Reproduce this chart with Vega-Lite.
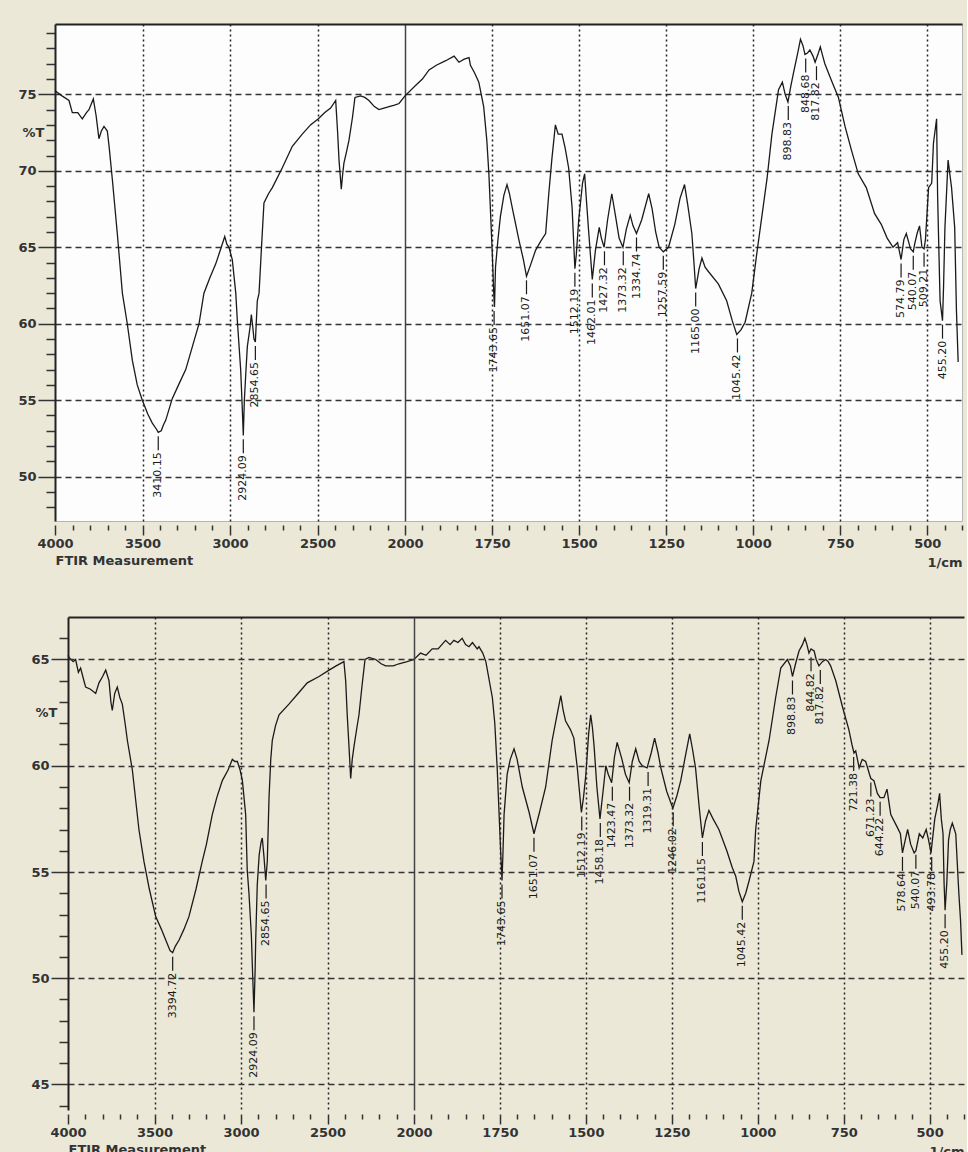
{
  "$schema": "https://vega.github.io/schema/vega-lite/v6.json",
  "background": "#ebe8d8",
  "padding": {"left": 12, "top": 23, "right": 2, "bottom": 0},
  "spacing": 47,
  "columns": 1,
  "align": "none",
  "config": {
    "view": {"stroke": "#b5b5b5", "strokeWidth": 1, "fill": "#fdfdfd"},
    "axis": {
      "labelFont": "DejaVu Sans", "labelFontWeight": "bold", "labelFontSize": 13, "labelColor": "#333333",
      "titleFont": "DejaVu Sans", "titleFontWeight": "bold", "titleFontSize": 13, "titleColor": "#333333",
      "tickColor": "#333333", "tickWidth": 1.5
    }
  },
  "datasets": {
    "specA": [
      {"wn":4000,"t":75.3},{"wn":3996,"t":75.2},{"wn":3960,"t":74.9},{"wn":3920,"t":74.6},{"wn":3901,"t":73.8},{"wn":3870,"t":73.8},{"wn":3844,"t":73.4},{"wn":3820,"t":73.8},{"wn":3806,"t":74.0},{"wn":3781,"t":74.7},{"wn":3765,"t":73.6},{"wn":3749,"t":72.1},{"wn":3735,"t":72.6},{"wn":3720,"t":72.9},{"wn":3701,"t":72.6},{"wn":3690,"t":71.5},{"wn":3672,"t":69.4},{"wn":3644,"t":65.9},{"wn":3615,"t":62.0},{"wn":3587,"t":60.0},{"wn":3558,"t":57.6},{"wn":3530,"t":56.0},{"wn":3501,"t":55.0},{"wn":3470,"t":54.1},{"wn":3444,"t":53.5},{"wn":3420,"t":53.1},{"wn":3410,"t":52.9},{"wn":3393,"t":53.0},{"wn":3380,"t":53.4},{"wn":3367,"t":53.7},{"wn":3330,"t":55.1},{"wn":3290,"t":56.1},{"wn":3253,"t":57.0},{"wn":3215,"t":58.5},{"wn":3177,"t":60.0},{"wn":3149,"t":62.0},{"wn":3115,"t":63.0},{"wn":3082,"t":63.9},{"wn":3050,"t":65.0},{"wn":3030,"t":65.7},{"wn":3018,"t":65.2},{"wn":3006,"t":65.0},{"wn":2987,"t":64.2},{"wn":2967,"t":62.0},{"wn":2958,"t":60.2},{"wn":2939,"t":57.0},{"wn":2930,"t":54.5},{"wn":2924,"t":52.7},{"wn":2918,"t":55.0},{"wn":2910,"t":56.7},{"wn":2901,"t":58.5},{"wn":2885,"t":59.8},{"wn":2878,"t":60.6},{"wn":2870,"t":59.8},{"wn":2863,"t":59.0},{"wn":2855,"t":58.8},{"wn":2844,"t":61.5},{"wn":2834,"t":62.0},{"wn":2820,"t":65.0},{"wn":2806,"t":67.9},{"wn":2780,"t":68.5},{"wn":2758,"t":68.9},{"wn":2701,"t":70.2},{"wn":2644,"t":71.6},{"wn":2587,"t":72.4},{"wn":2540,"t":73.0},{"wn":2495,"t":73.4},{"wn":2460,"t":73.8},{"wn":2425,"t":74.1},{"wn":2396,"t":74.6},{"wn":2385,"t":72.5},{"wn":2377,"t":70.7},{"wn":2364,"t":68.8},{"wn":2356,"t":69.8},{"wn":2349,"t":70.5},{"wn":2335,"t":71.2},{"wn":2320,"t":72.0},{"wn":2300,"t":73.5},{"wn":2286,"t":74.8},{"wn":2253,"t":74.9},{"wn":2230,"t":74.8},{"wn":2206,"t":74.6},{"wn":2175,"t":74.2},{"wn":2149,"t":74.0},{"wn":2120,"t":74.1},{"wn":2091,"t":74.2},{"wn":2060,"t":74.3},{"wn":2034,"t":74.4},{"wn":2000,"t":74.9},
      {"wn":1969,"t":75.6},{"wn":1950,"t":76.0},{"wn":1931,"t":76.6},{"wn":1910,"t":76.9},{"wn":1883,"t":77.2},{"wn":1859,"t":77.5},{"wn":1845,"t":77.1},{"wn":1830,"t":77.3},{"wn":1816,"t":77.4},{"wn":1812,"t":76.9},{"wn":1800,"t":76.4},{"wn":1788,"t":75.8},{"wn":1774,"t":74.2},{"wn":1765,"t":72.0},{"wn":1759,"t":69.8},{"wn":1750,"t":65.0},{"wn":1745,"t":62.0},{"wn":1743,"t":61.1},{"wn":1740,"t":63.7},{"wn":1733,"t":65.5},{"wn":1726,"t":67.0},{"wn":1716,"t":68.4},{"wn":1707,"t":69.1},{"wn":1700,"t":68.5},{"wn":1692,"t":67.6},{"wn":1673,"t":65.5},{"wn":1660,"t":64.2},{"wn":1651,"t":63.1},{"wn":1640,"t":63.8},{"wn":1625,"t":64.8},{"wn":1610,"t":65.4},{"wn":1596,"t":65.9},{"wn":1587,"t":68.5},{"wn":1578,"t":70.8},{"wn":1568,"t":73.0},{"wn":1560,"t":72.4},{"wn":1549,"t":72.4},{"wn":1540,"t":71.5},{"wn":1530,"t":70.2},{"wn":1520,"t":67.6},{"wn":1512,"t":63.6},{"wn":1508,"t":64.5},{"wn":1501,"t":66.8},{"wn":1490,"t":69.2},{"wn":1484,"t":69.8},{"wn":1478,"t":67.8},{"wn":1472,"t":65.9},{"wn":1462,"t":62.9},{"wn":1453,"t":64.8},{"wn":1442,"t":66.3},{"wn":1436,"t":65.6},{"wn":1428,"t":65.0},{"wn":1418,"t":66.8},{"wn":1406,"t":68.5},{"wn":1395,"t":67.0},{"wn":1385,"t":65.6},{"wn":1374,"t":65.0},{"wn":1364,"t":66.2},{"wn":1353,"t":67.1},{"wn":1345,"t":66.4},{"wn":1335,"t":65.9},{"wn":1320,"t":66.8},{"wn":1300,"t":68.5},{"wn":1290,"t":67.5},{"wn":1280,"t":66.0},{"wn":1270,"t":65.0},{"wn":1258,"t":64.7},{"wn":1243,"t":65.0},{"wn":1225,"t":66.5},{"wn":1210,"t":68.2},{"wn":1197,"t":69.1},{"wn":1188,"t":67.8},{"wn":1176,"t":65.9},{"wn":1170,"t":64.0},{"wn":1165,"t":62.3},{"wn":1155,"t":63.6},{"wn":1147,"t":64.3},{"wn":1138,"t":63.7},{"wn":1128,"t":63.4},{"wn":1100,"t":62.6},{"wn":1076,"t":61.5},{"wn":1060,"t":60.2},{"wn":1047,"t":59.3},{"wn":1035,"t":59.6},{"wn":1023,"t":60.1},{"wn":1004,"t":62.0},{"wn":990,"t":64.5},{"wn":975,"t":67.0},{"wn":960,"t":69.5},{"wn":946,"t":72.4},{"wn":927,"t":75.3},{"wn":916,"t":75.8},{"wn":908,"t":75.0},{"wn":900,"t":74.5},{"wn":892,"t":75.5},{"wn":884,"t":76.4},{"wn":872,"t":77.7},{"wn":864,"t":78.6},{"wn":857,"t":78.2},{"wn":851,"t":77.6},{"wn":844,"t":77.7},{"wn":837,"t":77.9},{"wn":828,"t":77.5},{"wn":822,"t":77.1},{"wn":814,"t":77.6},{"wn":807,"t":78.1},{"wn":800,"t":77.5},{"wn":794,"t":77.0},{"wn":775,"t":75.9},{"wn":755,"t":74.8},{"wn":736,"t":72.9},{"wn":717,"t":71.3},{"wn":698,"t":69.8},{"wn":675,"t":68.9},{"wn":651,"t":67.2},{"wn":632,"t":66.5},{"wn":615,"t":65.6},{"wn":598,"t":65.0},{"wn":585,"t":65.3},{"wn":575,"t":64.2},{"wn":567,"t":65.5},{"wn":560,"t":65.9},{"wn":548,"t":64.9},{"wn":540,"t":64.7},{"wn":536,"t":65.2},{"wn":529,"t":65.9},{"wn":522,"t":66.4},{"wn":515,"t":65.0},{"wn":509,"t":64.9},{"wn":505,"t":65.5},{"wn":501,"t":67.0},{"wn":496,"t":68.9},{"wn":487,"t":69.2},{"wn":482,"t":71.8},{"wn":473,"t":73.4},{"wn":470,"t":68.3},{"wn":463,"t":61.5},{"wn":456,"t":60.2},{"wn":453,"t":62.4},{"wn":449,"t":66.3},{"wn":440,"t":70.7},{"wn":430,"t":68.9},{"wn":421,"t":66.3},{"wn":416,"t":60.9},{"wn":411,"t":57.5}
    ],
    "peaksA": [
      {"wn":3410,"t":52.9,"label":"3410.15"},{"wn":2924,"t":52.7,"label":"2924.09"},{"wn":2855,"t":58.8,"label":"2854.65"},{"wn":1744,"t":61.1,"label":"1743.65"},{"wn":1651,"t":63.1,"label":"1651.07"},{"wn":1512,"t":63.6,"label":"1512.19"},{"wn":1462,"t":62.9,"label":"1462.01"},{"wn":1427,"t":65.0,"label":"1427.32"},{"wn":1373,"t":65.0,"label":"1373.32"},{"wn":1335,"t":65.9,"label":"1334.74"},{"wn":1258,"t":64.7,"label":"1257.59"},{"wn":1165,"t":62.3,"label":"1165.00"},{"wn":1045,"t":59.3,"label":"1045.42"},{"wn":899,"t":74.5,"label":"898.83"},{"wn":849,"t":77.6,"label":"848.68"},{"wn":818,"t":77.1,"label":"817.82"},{"wn":575,"t":64.2,"label":"574.79"},{"wn":540,"t":64.7,"label":"540.07"},{"wn":509,"t":64.9,"label":"509.21"},{"wn":456,"t":60.2,"label":"455.20"}
    ],
    "specB": [
      {"wn":4000,"t":65.2},{"wn":3994,"t":65.1},{"wn":3970,"t":64.9},{"wn":3956,"t":65.0},{"wn":3940,"t":64.4},{"wn":3927,"t":64.6},{"wn":3908,"t":64.0},{"wn":3898,"t":63.7},{"wn":3870,"t":63.6},{"wn":3840,"t":63.4},{"wn":3821,"t":63.9},{"wn":3800,"t":64.2},{"wn":3782,"t":64.5},{"wn":3763,"t":64.0},{"wn":3752,"t":63.0},{"wn":3744,"t":62.6},{"wn":3730,"t":63.4},{"wn":3715,"t":63.7},{"wn":3700,"t":63.2},{"wn":3686,"t":62.9},{"wn":3670,"t":62.0},{"wn":3657,"t":61.2},{"wn":3628,"t":59.8},{"wn":3590,"t":57.0},{"wn":3561,"t":55.5},{"wn":3530,"t":54.2},{"wn":3493,"t":52.9},{"wn":3460,"t":52.3},{"wn":3435,"t":51.8},{"wn":3410,"t":51.3},{"wn":3395,"t":51.2},{"wn":3380,"t":51.5},{"wn":3358,"t":51.8},{"wn":3330,"t":52.3},{"wn":3301,"t":52.9},{"wn":3260,"t":54.2},{"wn":3224,"t":55.5},{"wn":3200,"t":56.3},{"wn":3166,"t":57.7},{"wn":3140,"t":58.5},{"wn":3108,"t":59.3},{"wn":3075,"t":59.8},{"wn":3050,"t":60.3},{"wn":3035,"t":60.2},{"wn":3021,"t":60.2},{"wn":3005,"t":59.8},{"wn":2992,"t":59.3},{"wn":2973,"t":57.7},{"wn":2964,"t":55.1},{"wn":2954,"t":54.0},{"wn":2940,"t":52.0},{"wn":2932,"t":50.0},{"wn":2925,"t":48.4},{"wn":2918,"t":50.5},{"wn":2915,"t":51.8},{"wn":2906,"t":54.4},{"wn":2895,"t":55.8},{"wn":2884,"t":56.4},{"wn":2877,"t":56.6},{"wn":2867,"t":55.7},{"wn":2857,"t":54.6},{"wn":2848,"t":55.5},{"wn":2838,"t":58.5},{"wn":2828,"t":60.3},{"wn":2819,"t":61.2},{"wn":2800,"t":61.9},{"wn":2780,"t":62.4},{"wn":2723,"t":62.9},{"wn":2670,"t":63.4},{"wn":2617,"t":63.9},{"wn":2549,"t":64.2},{"wn":2491,"t":64.5},{"wn":2450,"t":64.7},{"wn":2405,"t":64.9},{"wn":2395,"t":64.0},{"wn":2386,"t":62.4},{"wn":2375,"t":60.8},{"wn":2366,"t":59.4},{"wn":2357,"t":60.3},{"wn":2347,"t":60.9},{"wn":2330,"t":61.8},{"wn":2318,"t":62.4},{"wn":2300,"t":63.8},{"wn":2283,"t":65.0},{"wn":2260,"t":65.1},{"wn":2221,"t":65.0},{"wn":2190,"t":64.8},{"wn":2164,"t":64.7},{"wn":2120,"t":64.7},{"wn":2087,"t":64.8},{"wn":2040,"t":64.9},{"wn":2000,"t":65.0},
      {"wn":1981,"t":65.3},{"wn":1965,"t":65.2},{"wn":1947,"t":65.5},{"wn":1930,"t":65.5},{"wn":1908,"t":65.9},{"wn":1895,"t":65.7},{"wn":1884,"t":65.9},{"wn":1872,"t":65.8},{"wn":1860,"t":66.0},{"wn":1850,"t":65.7},{"wn":1840,"t":65.6},{"wn":1830,"t":65.8},{"wn":1816,"t":65.5},{"wn":1811,"t":65.6},{"wn":1800,"t":65.3},{"wn":1791,"t":64.9},{"wn":1772,"t":63.2},{"wn":1765,"t":62.0},{"wn":1758,"t":59.9},{"wn":1748,"t":56.0},{"wn":1744,"t":54.6},{"wn":1741,"t":56.0},{"wn":1738,"t":57.7},{"wn":1729,"t":59.6},{"wn":1720,"t":60.3},{"wn":1709,"t":60.8},{"wn":1700,"t":60.3},{"wn":1685,"t":59.0},{"wn":1665,"t":57.8},{"wn":1651,"t":56.8},{"wn":1635,"t":57.8},{"wn":1617,"t":59.0},{"wn":1598,"t":61.2},{"wn":1585,"t":62.3},{"wn":1573,"t":63.3},{"wn":1566,"t":62.6},{"wn":1559,"t":62.1},{"wn":1545,"t":61.7},{"wn":1535,"t":61.3},{"wn":1525,"t":59.9},{"wn":1513,"t":57.8},{"wn":1507,"t":58.5},{"wn":1500,"t":59.6},{"wn":1492,"t":61.5},{"wn":1486,"t":62.4},{"wn":1481,"t":61.8},{"wn":1476,"t":60.9},{"wn":1468,"t":59.0},{"wn":1459,"t":57.5},{"wn":1450,"t":58.8},{"wn":1442,"t":60.0},{"wn":1435,"t":59.6},{"wn":1425,"t":59.2},{"wn":1417,"t":60.4},{"wn":1409,"t":61.1},{"wn":1395,"t":60.3},{"wn":1385,"t":59.6},{"wn":1374,"t":59.2},{"wn":1365,"t":60.2},{"wn":1355,"t":60.8},{"wn":1345,"t":60.2},{"wn":1336,"t":60.0},{"wn":1322,"t":59.9},{"wn":1310,"t":60.6},{"wn":1300,"t":61.3},{"wn":1290,"t":60.6},{"wn":1282,"t":59.9},{"wn":1265,"t":58.8},{"wn":1247,"t":58.0},{"wn":1235,"t":58.6},{"wn":1224,"t":59.3},{"wn":1210,"t":60.5},{"wn":1198,"t":61.5},{"wn":1190,"t":60.8},{"wn":1181,"t":59.9},{"wn":1170,"t":58.0},{"wn":1161,"t":56.6},{"wn":1152,"t":57.4},{"wn":1142,"t":57.9},{"wn":1130,"t":57.5},{"wn":1113,"t":57.0},{"wn":1090,"t":56.0},{"wn":1074,"t":55.2},{"wn":1064,"t":54.8},{"wn":1055,"t":54.1},{"wn":1045,"t":53.6},{"wn":1035,"t":54.0},{"wn":1025,"t":54.6},{"wn":1011,"t":55.5},{"wn":1006,"t":57.0},{"wn":991,"t":59.3},{"wn":967,"t":61.2},{"wn":948,"t":63.2},{"wn":933,"t":64.6},{"wn":914,"t":65.0},{"wn":905,"t":64.7},{"wn":899,"t":64.2},{"wn":890,"t":64.8},{"wn":880,"t":65.4},{"wn":870,"t":65.7},{"wn":863,"t":66.0},{"wn":857,"t":65.7},{"wn":851,"t":65.3},{"wn":845,"t":65.5},{"wn":836,"t":65.4},{"wn":830,"t":65.0},{"wn":822,"t":64.7},{"wn":812,"t":64.9},{"wn":802,"t":65.0},{"wn":795,"t":64.9},{"wn":788,"t":64.7},{"wn":773,"t":64.0},{"wn":754,"t":62.8},{"wn":735,"t":61.7},{"wn":726,"t":61.0},{"wn":720,"t":60.6},{"wn":715,"t":60.7},{"wn":705,"t":59.9},{"wn":696,"t":60.3},{"wn":686,"t":60.2},{"wn":675,"t":59.6},{"wn":671,"t":59.4},{"wn":662,"t":59.3},{"wn":652,"t":58.7},{"wn":644,"t":58.5},{"wn":633,"t":58.5},{"wn":624,"t":58.9},{"wn":613,"t":57.7},{"wn":594,"t":57.1},{"wn":585,"t":56.8},{"wn":579,"t":55.9},{"wn":571,"t":56.5},{"wn":564,"t":57.0},{"wn":555,"t":56.3},{"wn":545,"t":55.9},{"wn":540,"t":56.0},{"wn":530,"t":56.8},{"wn":520,"t":56.6},{"wn":510,"t":57.0},{"wn":503,"t":56.5},{"wn":496,"t":55.9},{"wn":485,"t":57.5},{"wn":476,"t":58.2},{"wn":471,"t":58.7},{"wn":466,"t":57.5},{"wn":461,"t":56.8},{"wn":458,"t":54.5},{"wn":455,"t":53.2},{"wn":450,"t":54.5},{"wn":445,"t":56.5},{"wn":440,"t":57.0},{"wn":434,"t":57.3},{"wn":428,"t":57.0},{"wn":424,"t":56.8},{"wn":415,"t":54.0},{"wn":410,"t":52.7},{"wn":406,"t":51.1}
    ],
    "peaksB": [
      {"wn":3395,"t":51.2,"label":"3394.72"},{"wn":2925,"t":48.4,"label":"2924.09"},{"wn":2855,"t":54.6,"label":"2854.65"},{"wn":1744,"t":54.6,"label":"1743.65"},{"wn":1651,"t":56.8,"label":"1651.07"},{"wn":1512,"t":57.8,"label":"1512.19"},{"wn":1458,"t":57.5,"label":"1458.18"},{"wn":1423,"t":59.2,"label":"1423.47"},{"wn":1373,"t":59.2,"label":"1373.32"},{"wn":1319,"t":59.9,"label":"1319.31"},{"wn":1246,"t":58.0,"label":"1246.02"},{"wn":1161,"t":56.6,"label":"1161.15"},{"wn":1045,"t":53.6,"label":"1045.42"},{"wn":899,"t":64.2,"label":"898.83"},{"wn":845,"t":65.3,"label":"844.82"},{"wn":818,"t":64.7,"label":"817.82"},{"wn":721,"t":60.6,"label":"721.38"},{"wn":671,"t":59.4,"label":"671.23"},{"wn":644,"t":58.5,"label":"644.22"},{"wn":579,"t":55.9,"label":"578.64"},{"wn":540,"t":56.0,"label":"540.07"},{"wn":494,"t":55.9,"label":"493.78"},{"wn":455,"t":53.2,"label":"455.20"}
    ]
  },
  "concat": [
    {
      "width": 907, "height": 497,
      "resolve": {"axis": {"x": "independent"}},
      "layer": [
        {
          "data": {"name": "specA"},
          "mark": {"type": "line", "color": "#1a1a1a", "strokeWidth": 1.3, "clip": true},
          "encoding": {
            "x": {"field": "wn", "type": "quantitative",
              "scale": {"domain": [4000, 2000, 400], "range": [0, 350, 907], "zero": false, "nice": false},
              "axis": {"orient": "bottom", "title": "FTIR Measurement", "titleAnchor": "start", "titleAlign": "left", "titlePadding": 4,
                "format": "d", "offset": 4, "domain": false, "labelFlush": false, "labelOverlap": false, "labelPadding": 2, "tickCount": 500,
                "values": [4000,3900,3800,3700,3600,3500,3400,3300,3200,3100,3000,2900,2800,2700,2600,2500,2400,2300,2200,2100,2000,1950,1900,1850,1800,1750,1700,1650,1600,1550,1500,1450,1400,1350,1300,1250,1200,1150,1100,1050,1000,950,900,850,800,750,700,650,600,550,500,450,400],
                "labelExpr": "(datum.value > 2000 ? datum.value % 500 == 0 : datum.value % 250 == 0) ? datum.label : ''",
                "tickSize": {"condition": {"test": "(datum.value > 2000 ? datum.value % 500 == 0 : datum.value % 250 == 0)", "value": 10}, "value": 5},
                "grid": true,
                "gridOpacity": {"condition": {"test": "((datum.value > 2000 ? datum.value % 500 == 0 : datum.value % 250 == 0) && datum.value < 4000)", "value": 1}, "value": 0},
                "gridDash": {"condition": {"test": "(datum.value == 2000)", "value": []}, "value": [2, 3]},
                "gridColor": {"condition": {"test": "(datum.value == 2000)", "value": "#444444"}, "value": "#222222"},
                "gridWidth": 1.5}
            },
            "y": {"field": "t", "type": "quantitative",
              "scale": {"domain": [47.1, 79.6], "zero": false, "nice": false},
              "axis": {"title": null, "format": "d", "minExtent": 42, "maxExtent": 42, "domainColor": "#222222", "domainWidth": 2, "labelPadding": 2, "labelOverlap": false, "tickCount": 500,
                "values": [48,49,50,51,52,53,54,55,56,57,58,59,60,61,62,63,64,65,66,67,68,69,70,71,72,72.5,73,74,75,76,77,78,79],
                "labelExpr": "datum.value == 72.5 ? '%T' : (datum.value % 5 == 0 ? datum.label : '')",
                "tickSize": {"condition": {"test": "(datum.value % 5 == 0)", "value": 17}, "value": 9},
                "tickOpacity": {"condition": {"test": "(datum.value == 72.5)", "value": 0}, "value": 1},
                "grid": true,
                "gridOpacity": {"condition": {"test": "(datum.value % 5 == 0)", "value": 1}, "value": 0},
                "gridDash": [6, 4], "gridColor": "#333333", "gridWidth": 1.3}
            }
          }
        },
        {
          "data": {"name": "peaksA"},
          "mark": {"type": "rule", "color": "#1a1a1a", "strokeWidth": 1.2, "yOffset": 4, "y2Offset": 18},
          "encoding": {
            "x": {"field": "wn", "type": "quantitative",
              "axis": {"orient": "bottom", "title": "1/cm", "titleAnchor": "end", "titleAlign": "right", "titleBaseline": "alphabetic", "titleY": 45,
                "labels": false, "ticks": false, "domain": false, "grid": false}},
            "y": {"field": "t", "type": "quantitative"},
            "y2": {"field": "t"}
          }
        },
        {
          "data": {"name": "peaksA"},
          "mark": {"type": "text", "angle": 270, "align": "right", "baseline": "middle", "font": "DejaVu Sans", "fontSize": 11, "color": "#1a1a1a", "yOffset": 20},
          "encoding": {
            "x": {"field": "wn", "type": "quantitative", "axis": null},
            "y": {"field": "t", "type": "quantitative"},
            "text": {"field": "label"}
          }
        },
        {
          "mark": {"type": "text", "font": "Liberation Sans", "fontSize": 21, "fontWeight": "bold", "color": "#111111", "text": "(a)"},
          "encoding": {
            "x": {"datum": 3790, "type": "quantitative",
              "axis": {"orient": "top", "labels": false, "ticks": false, "grid": false, "domain": true, "domainColor": "#222222", "domainWidth": 2, "title": null}},
            "y": {"datum": 78.0, "type": "quantitative"}
          }
        }
      ]
    },
    {
      "width": 909, "height": 493,
      "view": {"fill": null, "stroke": null},
      "resolve": {"axis": {"x": "independent"}},
      "layer": [
        {
          "mark": {"type": "rect", "fill": "#fdfdfd", "stroke": "#b5b5b5", "strokeWidth": 1},
          "encoding": {
            "x": {"datum": 4000, "type": "quantitative", "axis": null},
            "x2": {"datum": 400},
            "y": {"datum": 43.8, "type": "quantitative"},
            "y2": {"datum": 67.0}
          }
        },
        {
          "data": {"name": "specB"},
          "mark": {"type": "line", "color": "#1a1a1a", "strokeWidth": 1.3, "clip": true},
          "encoding": {
            "x": {"field": "wn", "type": "quantitative",
              "scale": {"domain": [4000, 2000, 400], "range": [13, 359, 909], "zero": false, "nice": false},
              "axis": {"orient": "bottom", "title": "FTIR Measurement", "titleAnchor": "start", "titleAlign": "left", "titlePadding": 4, "zindex": 1,
                "format": "d", "offset": 4, "domain": false, "labelFlush": false, "labelOverlap": false, "labelPadding": 2, "tickCount": 500,
                "values": [4000,3900,3800,3700,3600,3500,3400,3300,3200,3100,3000,2900,2800,2700,2600,2500,2400,2300,2200,2100,2000,1950,1900,1850,1800,1750,1700,1650,1600,1550,1500,1450,1400,1350,1300,1250,1200,1150,1100,1050,1000,950,900,850,800,750,700,650,600,550,500,450,400],
                "labelExpr": "(datum.value > 2000 ? datum.value % 500 == 0 : datum.value % 250 == 0) ? datum.label : ''",
                "tickSize": {"condition": {"test": "(datum.value > 2000 ? datum.value % 500 == 0 : datum.value % 250 == 0)", "value": 10}, "value": 5},
                "grid": true,
                "gridOpacity": {"condition": {"test": "((datum.value > 2000 ? datum.value % 500 == 0 : datum.value % 250 == 0) && datum.value < 4000)", "value": 1}, "value": 0},
                "gridDash": {"condition": {"test": "(datum.value == 2000)", "value": []}, "value": [2, 3]},
                "gridColor": {"condition": {"test": "(datum.value == 2000)", "value": "#444444"}, "value": "#222222"},
                "gridWidth": 1.5}
            },
            "y": {"field": "t", "type": "quantitative",
              "scale": {"domain": [43.8, 67.0], "zero": false, "nice": false},
              "axis": {"title": null, "format": "d", "offset": -13, "minExtent": 42, "maxExtent": 42, "zindex": 1, "domainColor": "#222222", "domainWidth": 2, "labelPadding": 2, "labelOverlap": false, "tickCount": 500,
                "values": [44,45,46,47,48,49,50,51,52,53,54,55,56,57,58,59,60,61,62,62.5,63,64,65,66],
                "labelExpr": "datum.value == 62.5 ? '%T' : (datum.value % 5 == 0 ? datum.label : '')",
                "tickSize": {"condition": {"test": "(datum.value % 5 == 0)", "value": 17}, "value": 9},
                "tickOpacity": {"condition": {"test": "(datum.value == 62.5)", "value": 0}, "value": 1},
                "grid": true,
                "gridOpacity": {"condition": {"test": "(datum.value % 5 == 0)", "value": 1}, "value": 0},
                "gridDash": [6, 4], "gridColor": "#333333", "gridWidth": 1.3}
            }
          }
        },
        {
          "data": {"name": "peaksB"},
          "mark": {"type": "rule", "color": "#1a1a1a", "strokeWidth": 1.2, "yOffset": 4, "y2Offset": 18},
          "encoding": {
            "x": {"field": "wn", "type": "quantitative",
              "axis": {"orient": "bottom", "title": "1/cm", "titleAnchor": "end", "titleAlign": "right", "titleBaseline": "alphabetic", "titleY": 45,
                "labels": false, "ticks": false, "domain": false, "grid": false}},
            "y": {"field": "t", "type": "quantitative"},
            "y2": {"field": "t"}
          }
        },
        {
          "data": {"name": "peaksB"},
          "mark": {"type": "text", "angle": 270, "align": "right", "baseline": "middle", "font": "DejaVu Sans", "fontSize": 11, "color": "#1a1a1a", "yOffset": 20},
          "encoding": {
            "x": {"field": "wn", "type": "quantitative", "axis": null},
            "y": {"field": "t", "type": "quantitative"},
            "text": {"field": "label"}
          }
        },
        {
          "mark": {"type": "text", "font": "Liberation Sans", "fontSize": 21, "fontWeight": "bold", "color": "#111111", "text": "(b)"},
          "encoding": {
            "x": {"datum": 3815, "type": "quantitative",
              "axis": {"orient": "top", "labels": false, "ticks": false, "grid": false, "domain": true, "domainColor": "#222222", "domainWidth": 2, "title": null}},
            "y": {"datum": 66.0, "type": "quantitative"}
          }
        }
      ]
    }
  ]
}
